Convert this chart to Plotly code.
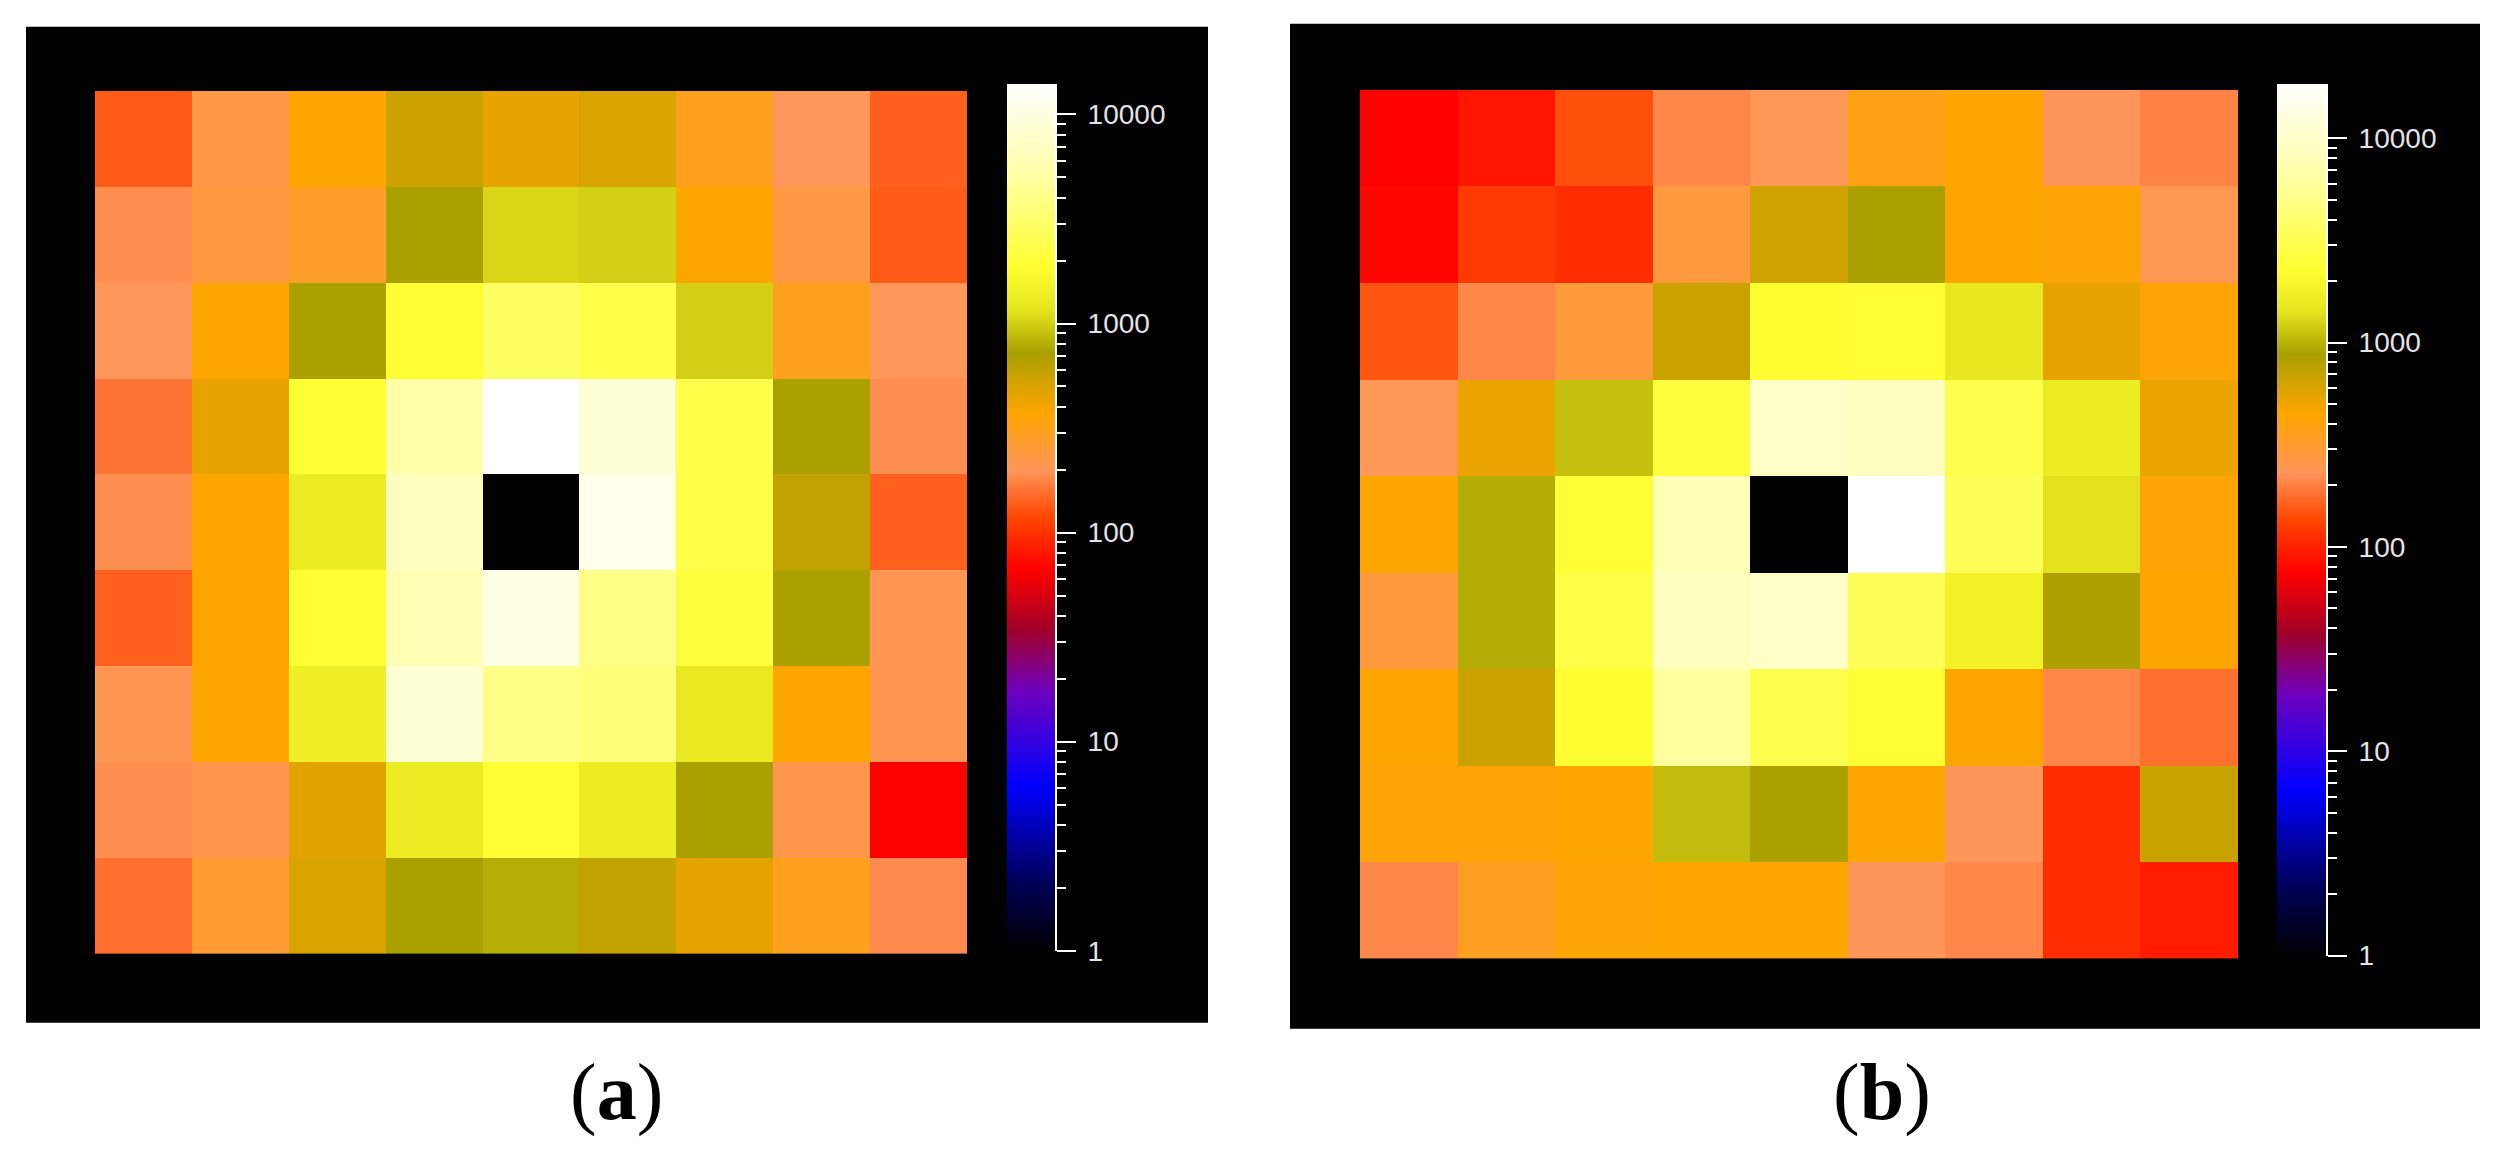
import numpy as np
from plotly import graph_objs as go

W, H = 2493, 1152

# counts per cell, rows listed top to bottom (centre cell is empty)
counts_a = [
  [136, 230, 372, 560, 450, 500, 300, 200, 140],
  [190, 240, 280, 724, 1050, 1000, 372, 230, 136],
  [200, 372, 724, 1900, 2900, 2300, 1000, 300, 200],
  [160, 450, 1900, 5400, 14000, 8700, 2300, 724, 190],
  [190, 372, 1300, 6800, 1, 11000, 2300, 600, 140],
  [140, 372, 1900, 6000, 10500, 4000, 2100, 724, 210],
  [210, 372, 1400, 8700, 4000, 3500, 1250, 372, 210],
  [190, 220, 470, 1300, 1900, 1300, 724, 220, 66],
  [155, 260, 500, 724, 800, 600, 450, 300, 185],
]

counts_b = [
  [75, 90, 145, 211, 240, 380, 441, 234, 205],
  [80, 123, 110, 284, 650, 879, 441, 420, 250],
  [150, 211, 290, 680, 2300, 2400, 1500, 537, 430],
  [240, 520, 1100, 2600, 9800, 8800, 3000, 1600, 520],
  [441, 950, 2400, 7800, 1, 18450, 3300, 1400, 430],
  [284, 950, 2850, 8800, 9500, 3300, 1800, 850, 441],
  [441, 680, 2300, 6200, 3000, 2400, 441, 211, 180],
  [420, 420, 441, 1070, 879, 441, 234, 110, 690],
  [211, 346, 430, 441, 441, 234, 211, 110, 95],
]

cbar_max_a = 14000
cbar_max_b = 18450
cbar_ticks = [1, 10, 100, 1000, 10000]
labels = ['(<b>a</b>)', '(<b>b</b>)']

# IDL-like "hot" table with blue/purple low end
colorscale = [
  [0.00, 'rgb(0,0,0)'],
  [0.08, 'rgb(0,0,90)'],
  [0.19, 'rgb(0,0,255)'],
  [0.30, 'rgb(110,0,190)'],
  [0.37, 'rgb(160,0,40)'],
  [0.44, 'rgb(255,0,0)'],
  [0.50, 'rgb(255,70,0)'],
  [0.555, 'rgb(255,150,90)'],
  [0.62, 'rgb(255,165,0)'],
  [0.69, 'rgb(170,160,0)'],
  [0.74, 'rgb(230,230,30)'],
  [0.79, 'rgb(255,255,50)'],
  [0.90, 'rgb(255,255,170)'],
  [1.00, 'rgb(255,255,255)'],
]

def px(x): return x / W
def py(y): return 1 - y / H

# pixel boxes: (heatmap x0, x1, y0, y1), (colorbar x0, x1, y0, y1), (panel x0, x1, y0, y1)
panels = [
  dict(counts=counts_a, zmax=cbar_max_a, hm=(87, 959, 84, 959), cb=(999, 1047, 77, 956),
       bg=(18, 1200, 19, 1029), label_x=608),
  dict(counts=counts_b, zmax=cbar_max_b, hm=(1352, 2230, 83, 964), cb=(2269, 2318, 77, 961),
       bg=(1282, 2472, 16, 1035), label_x=1874),
]

fig = go.Figure()
layout = dict(
  width = W, height = H,
  margin = dict(l=0, r=0, t=0, b=0),
  paper_bgcolor = 'white',
  plot_bgcolor = 'rgba(0,0,0,0)',
  showlegend = False,
  shapes = [],
  annotations = [],
)

tick_font = dict(family='Liberation Sans', size=28, color='#e4e4e4')

for i, p in enumerate(panels):
  n = 2 * i + 1
  hx = '' if n == 1 else str(n)
  cx = str(n + 1)
  x0, x1, y0, y1 = p['hm']
  c0, c1, cy0, cy1 = p['cb']

  fig.add_trace(go.Heatmap(
    z = np.log10(np.array(p['counts'], dtype=float)),
    zmin = 0, zmax = np.log10(p['zmax']),
    colorscale = colorscale,
    xaxis = 'x' + hx, yaxis = 'y' + hx,
    xgap = 0, ygap = 0,
    colorbar = dict(
      x = px(c0), xanchor = 'left', y = py(cy1), yanchor = 'bottom',
      len = (cy1 - cy0) / H, lenmode = 'fraction',
      thickness = c1 - c0, thicknessmode = 'pixels',
      xpad = 0, ypad = 0, outlinewidth = 0,
      ticks = '', showticklabels = False,
    ),
  ))

  # empty trace so the colorbar tick axis gets drawn
  fig.add_trace(go.Scatter(x=[], y=[], xaxis='x' + cx, yaxis='y' + cx, hoverinfo='skip'))

  layout['xaxis' + hx] = dict(domain=[px(x0), px(x1)], range=[-0.5, 8.5], visible=False)
  layout['yaxis' + hx] = dict(domain=[py(y1), py(y0)], range=[8.5, -0.5], visible=False,
                              anchor='x' + hx)
  layout['xaxis' + cx] = dict(domain=[px(c0), px(c1)], visible=False, range=[0, 1])
  layout['yaxis' + cx] = dict(
    domain = [py(cy1), py(cy0)], anchor = 'x' + cx, side = 'right',
    type = 'log', range = [0, np.log10(p['zmax'])],
    tickmode = 'array', tickvals = cbar_ticks, ticktext = [str(t) for t in cbar_ticks],
    ticks = 'outside', ticklen = 19, tickwidth = 2, tickcolor = 'white',
    minor = dict(ticks='outside', ticklen=9, tickwidth=2, tickcolor='white', dtick='D1', showgrid=False),
    showline = True, linecolor = 'white', linewidth = 2,
    showgrid = False, zeroline = False,
    tickfont = tick_font, ticklabelstandoff = 6,
  )

  bx0, bx1, by0, by1 = p['bg']
  layout['shapes'].append(dict(
    type='rect', xref='paper', yref='paper', layer='below',
    x0=px(bx0), x1=px(bx1), y0=py(by1), y1=py(by0),
    fillcolor='black', line=dict(width=0),
  ))
  layout['annotations'].append(dict(
    text=labels[i], xref='paper', yref='paper', x=px(p['label_x']), y=py(1100),
    xanchor='center', yanchor='middle', showarrow=False,
    font=dict(family='Liberation Serif', size=80, color='black'),
  ))

fig.update_layout(**layout)
fig.write_html("out.html")
